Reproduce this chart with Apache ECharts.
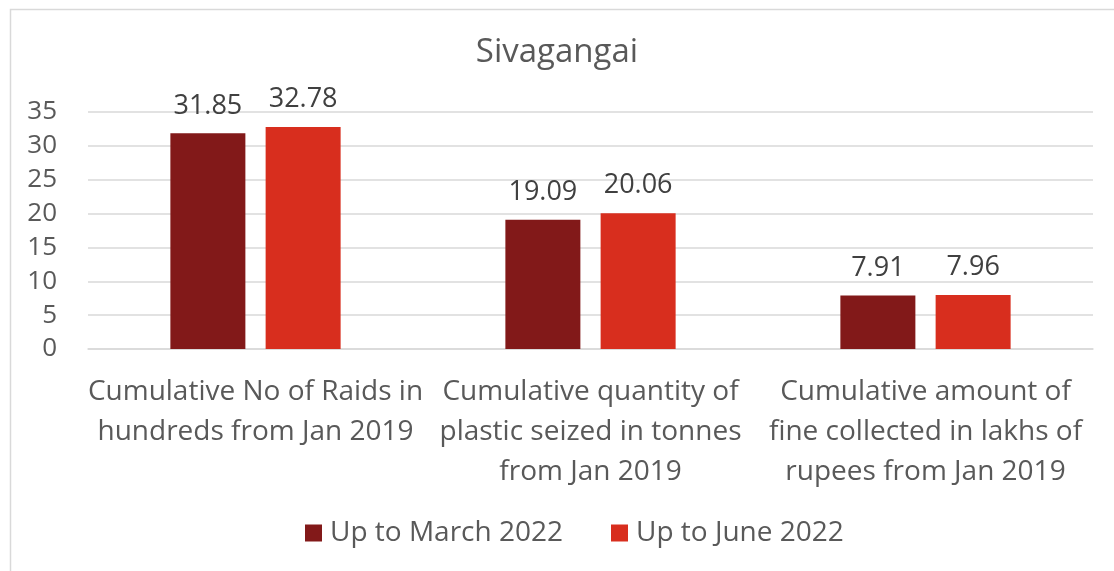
<!DOCTYPE html>
<html>
<head>
<meta charset="utf-8">
<script src="https://cdn.jsdelivr.net/npm/echarts@6/dist/echarts.min.js"></script>
<style>
  html, body { margin: 0; padding: 0; background: #fff; }
  #main { width: 1114px; height: 571px; }
</style>
</head>
<body>
<div id="main"></div>
<script>
const categories = [
  'Cumulative No of Raids in\nhundreds from Jan 2019',
  'Cumulative quantity of\nplastic seized in tonnes\nfrom Jan 2019',
  'Cumulative amount of\nfine collected in lakhs of\nrupees from Jan 2019'
]
const seriesNames = ['Up to March 2022', 'Up to June 2022']
const marchValues = [31.85, 19.09, 7.91]
const juneValues = [32.78, 20.06, 7.96]
const colors = ['#821919', '#D82E1E']

const chart = echarts.init(document.getElementById('main'))
const font = '"Open Sans", Lato, sans-serif'

chart.setOption({
  backgroundColor: '#fff',
  animation: false,
  textStyle: { fontFamily: font },
  title: {
    text: 'Sivagangai', left: 'center', top: 31,
    textStyle: { fontSize: 33, fontWeight: 'normal', color: '#595959', fontFamily: font }
  },
  legend: {
    data: seriesNames, bottom: 19, left: 300,
    itemWidth: 17, itemHeight: 17, itemGap: 48, icon: 'rect',
    textStyle: { fontSize: 28, color: '#595959', fontFamily: font, padding: [0, 0, 0, 3] }
  },
  grid: { left: 88, right: 21, top: 112, bottom: 222, containLabel: false },
  xAxis: {
    type: 'category', data: categories,
    axisLine: { lineStyle: { color: '#d9d9d9', width: 1.5 } },
    axisTick: { show: false },
    axisLabel: { fontSize: 28, color: '#595959', lineHeight: 40, margin: 23, interval: 0, fontFamily: font }
  },
  yAxis: {
    type: 'value', min: 0, max: 35, interval: 5,
    axisLine: { show: false }, axisTick: { show: false },
    splitLine: { lineStyle: { color: '#d9d9d9', width: 1.5 } },
    axisLabel: { fontSize: 26, color: '#595959', margin: 31, fontFamily: font }
  },
  series: [
    { name: seriesNames[0], type: 'bar', data: marchValues, barWidth: 75, barGap: '27%',
      itemStyle: { color: colors[0] },
      label: { show: true, position: 'top', distance: 14, fontSize: 27, color: '#404040', fontFamily: font } },
    { name: seriesNames[1], type: 'bar', data: juneValues, barWidth: 75,
      itemStyle: { color: colors[1] },
      label: { show: true, position: 'top', distance: 14, fontSize: 27, color: '#404040', fontFamily: font } }
  ],
  graphic: [{
    type: 'rect', left: 8, top: 7,
    shape: { width: 1200, height: 700 },
    style: { fill: 'none', stroke: '#d9d9d9', lineWidth: 1.5 }
  }]
})
</script>
</body>
</html>
